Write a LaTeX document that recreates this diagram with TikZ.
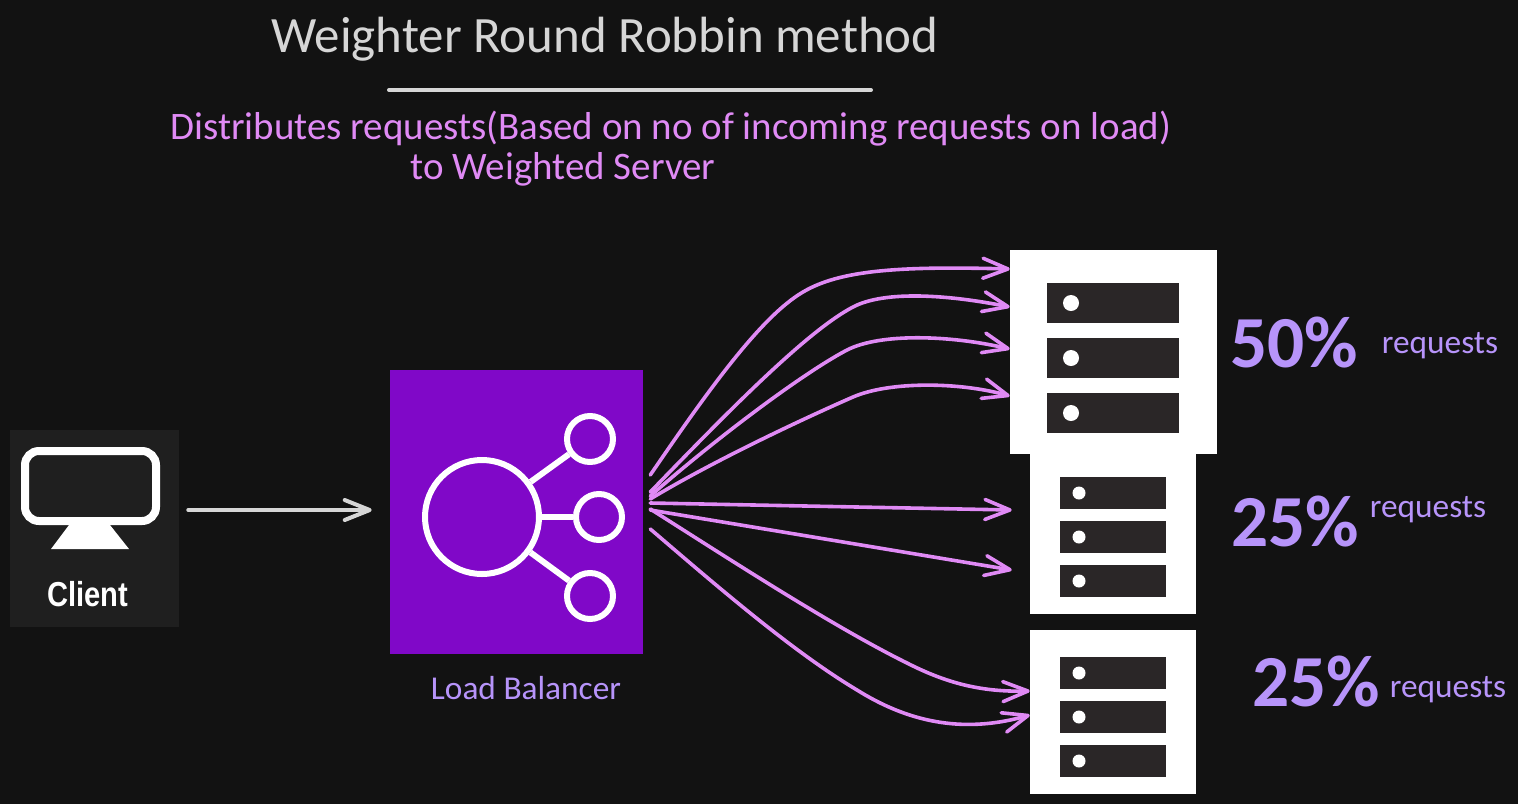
\documentclass[tikz,border=0pt]{standalone}
\usepackage{fontspec}
\setmainfont{Carlito}
\newfontfamily\clientfont[FakeStretch=0.84]{Liberation Sans}
\usetikzlibrary{arrows.meta,calc}
\def\px{0.75pt}
\definecolor{fondo}{HTML}{121212}
\definecolor{rosa}{HTML}{E08AF5}
\definecolor{lilla}{HTML}{B794FA}
\definecolor{grigio}{HTML}{D6D6D6}
\definecolor{viola}{HTML}{8008C8}
\definecolor{barra}{HTML}{2A2627}
\definecolor{schermo}{HTML}{1F1F1F}
\tikzset{
>={Straight Barb[length=25*\px,width=20*\px,round]},
freccia/.style={->,line cap=round,line width=3.6*\px,rosa},
freccia chiara/.style={->,line cap=round,line width=4*\px,grigio},
server/.style={rectangle,fill=white,inner sep=0pt},
big bar/.style={rectangle,fill=barra,inner sep=0pt,minimum width=132*\px,minimum height=40*\px},
small bar/.style={rectangle,fill=barra,inner sep=0pt,minimum width=106*\px,minimum height=32*\px},
big led/.style={circle,fill=white,inner sep=0pt,minimum size=16*\px},
small led/.style={circle,fill=white,inner sep=0pt,minimum size=13*\px},
ring/.style={circle,draw=white,line width=6*\px,inner sep=0pt},
titolo/.style={grigio,font=\fontsize{38.2}{40}\selectfont},
sottotitolo/.style={rosa,font=\fontsize{29.2}{31}\selectfont},
percento/.style={lilla,font=\bfseries\fontsize{55}{60}\selectfont},
richieste/.style={lilla,font=\fontsize{25}{27}\selectfont}}

\begin{document}
\begin{tikzpicture}[x=0.75pt,y=-0.75pt]

\fill[fondo] (0,0) rectangle (1518,804);

      \node[titolo] (title) at (605,39) {Weighter Round Robbin method};
      \coordinate (ruleL) at (389,90);
      \coordinate (ruleR) at (871,90);
      \draw[line cap=round,line width=4*\px,grigio] (ruleL) -- (ruleR);
      \node[sottotitolo] (sub1) at (671,129) {Distributes requests(Based on no of incoming requests on load)};
      \node[sottotitolo] (sub2) at (563,169) {to Weighted Server};

      % client
      \node[rectangle,fill=schermo,inner sep=0pt,minimum width=169*\px,minimum height=197*\px] (client) at (94.5,528.5) {};
      \node[rectangle,draw=white,line width=8*\px,rounded corners=14*\px,inner sep=0pt,minimum width=131*\px,minimum height=70*\px] (monitor) at (90.5,486) {};
      \fill[white] (69,525) -- (110,525) -- (129,549) -- (51,549) -- cycle;
      \node[white,font=\clientfont\bfseries\fontsize{26}{28}\selectfont] (clientlabel) at (88,594) {Client};

      % load balancer
      \node[rectangle,fill=viola,inner sep=0pt,minimum width=253*\px,minimum height=284*\px] (lb) at (516.5,512) {};
      \node[ring,minimum size=114*\px] (hub) at (482,517) {};
      \node[ring,minimum size=46*\px] (top) at (590,439) {};
      \node[ring,minimum size=46*\px] (mid) at (599,517) {};
      \node[ring,minimum size=46*\px] (bot) at (590,596) {};
      \draw[line width=6*\px,white] (hub) -- (top);
      \draw[line width=6*\px,white] (hub) -- (mid);
      \draw[line width=6*\px,white] (hub) -- (bot);
      \node[richieste] (lblabel) at (526,688) {Load Balancer};

      % servers
      \node[server,minimum width=207*\px,minimum height=204*\px] (srvA) at (1113.5,352) {};
      \node[big bar] (a1) at (1113,303) {};
      \node[big bar] (a2) at (1113,358) {};
      \node[big bar] (a3) at (1113,413) {};
      \node[big led] (la1) at (1071,303) {};
      \node[big led] (la2) at (1071,358) {};
      \node[big led] (la3) at (1071,413) {};

      \node[server,minimum width=166*\px,minimum height=160*\px] (srvB) at (1113,534) {};
      \node[small bar] (b1) at (1113,493) {};
      \node[small bar] (b2) at (1113,537) {};
      \node[small bar] (b3) at (1113,581) {};
      \node[small led] (lb1) at (1079,493) {};
      \node[small led] (lb2) at (1079,537) {};
      \node[small led] (lb3) at (1079,581) {};

      \node[server,minimum width=166*\px,minimum height=164*\px] (srvC) at (1113,712) {};
      \node[small bar] (c1) at (1113,673) {};
      \node[small bar] (c2) at (1113,717) {};
      \node[small bar] (c3) at (1113,761) {};
      \node[small led] (lc1) at (1079,673) {};
      \node[small led] (lc2) at (1079,717) {};
      \node[small led] (lc3) at (1079,761) {};

      % weights
      \node[percento] (pa) at (1294,343) {50\%};
      \node[richieste] (ra) at (1440,346) {requests};
      \node[percento] (pb) at (1295,522) {25\%};
      \node[richieste] (rb) at (1428,510) {requests};
      \node[percento] (pc) at (1316,682) {25\%};
      \node[richieste] (rc) at (1448,690) {requests};

      % arrows
      \draw[freccia chiara] ($(client.east)+(9,-18.5)$) -- ($(lb.west)+(-18,-2)$);

      \draw[freccia] ($(lb.east)+(7,-37)$) .. controls (705,395) and (760,317) .. (803,292) .. controls (840,270) and (900,266) .. ($(srvA.west)+(0,-83)$);
      \draw[freccia] ($(lb.east)+(7,-20)$) .. controls (720,420) and (805,332) .. (853,307) .. controls (885,290) and (950,295) .. ($(srvA.west)+(0,-45)$);
      \draw[freccia] ($(lb.east)+(7,-16)$) .. controls (720,435) and (805,372) .. (847,350) .. controls (880,333) and (950,335) .. ($(srvA.west)+(0,-3)$);
      \draw[freccia] ($(lb.east)+(7,-13)$) .. controls (715,460) and (805,418) .. (853,397) .. controls (890,381) and (960,382) .. ($(srvA.west)+(0,44)$);
      \draw[freccia] ($(lb.east)+(7,-9)$) -- ($(srvB.west)+(-18,-24)$);
      \draw[freccia] ($(lb.east)+(7,-2)$) -- ($(srvB.west)+(-18,36)$);
      \draw[freccia] ($(lb.east)+(7,-3)$) .. controls (720,553) and (830,625) .. (907,663) .. controls (950,685) and (985,692) .. ($(srvC.west)+(0,-21)$);
      \draw[freccia] ($(lb.east)+(7,17)$) .. controls (710,580) and (790,650) .. (857,690) .. controls (905,720) and (960,735) .. ($(srvC.west)+(0,3)$);
\end{tikzpicture}
\end{document}
